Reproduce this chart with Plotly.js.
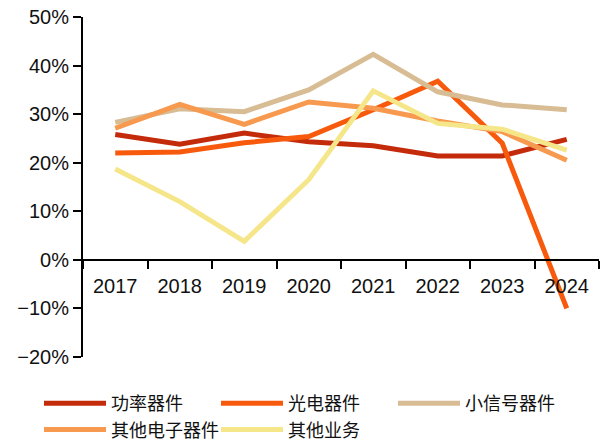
<!DOCTYPE html>
<html>
<head>
<meta charset="utf-8">
<script src="https://cdn.plot.ly/plotly-3.0.1.min.js"></script>
<style>html,body{margin:0;padding:0;background:#fff;}#chart{width:605px;height:444px;}</style>
</head>
<body>
<div id="chart"></div>
<script>
var years = ['2017','2018','2019','2020','2021','2022','2023','2024'];
var seriesNames = ['功率器件','光电器件','小信号器件','其他电子器件','其他业务'];
var power   = [25.8, 23.8, 26.1, 24.3, 23.5, 21.4, 21.4, 24.8];
var opto    = [22.0, 22.2, 24.1, 25.4, 30.9, 36.8, 24.0, -10.0];
var signal  = [28.3, 31.1, 30.5, 35.0, 42.3, 34.6, 31.9, 30.9];
var otherEl = [27.1, 32.0, 27.9, 32.5, 31.2, 28.6, 26.4, 20.5];
var otherBiz= [18.7, 12.0, 3.8, 16.5, 34.8, 28.1, 26.9, 22.6];
var colors = ['#C42B0B','#F75A0C','#D8BC94','#F7994E','#F6E68A'];
var values = [power, opto, signal, otherEl, otherBiz];

var traces = values.map(function(v, i){
  return {x: years, y: v, name: seriesNames[i], type: 'scatter', mode: 'lines',
          line: {color: colors[i], width: 5}, hoverinfo: 'skip'};
});

var fontFam = 'Liberation Sans, Arial, Noto Sans CJK SC, sans-serif';
var layout = {
  width: 605, height: 444,
  margin: {l: 83, r: 6, t: 17, b: 87, autoexpand: false},
  paper_bgcolor: '#ffffff', plot_bgcolor: '#ffffff',
  showlegend: true,
  font: {family: fontFam, size: 18, color: '#1a1a1a'},
  xaxis: {
    type: 'category', range: [-0.5, 7.5],
    anchor: 'free', position: 20/70,
    showline: true, linecolor: '#000', linewidth: 2,
    ticks: 'outside', tickson: 'boundaries', ticklen: 8, tickwidth: 2, tickcolor: '#000',
    showgrid: false, zeroline: false,
    tickfont: {family: fontFam, size: 20, color: '#111'},
    ticklabelstandoff: 8
  },
  yaxis: {
    range: [-20, 50], dtick: 10, ticksuffix: '%',
    showline: true, linecolor: '#000', linewidth: 2,
    ticks: 'outside', ticklen: 8, tickwidth: 2, tickcolor: '#000',
    showgrid: false, zeroline: false,
    tickfont: {family: fontFam, size: 20, color: '#111'}
  },
  legend: {
    orientation: 'h',
    x: (39-83)/516, xanchor: 'left', y: -(385-357)/340, yanchor: 'top',
    entrywidth: 100, entrywidthmode: 'pixels', itemwidth: 62,
    font: {family: 'Noto Sans CJK SC, sans-serif', size: 18, color: '#111'},
    traceorder: 'normal', bgcolor: 'rgba(0,0,0,0)'
  }
};
Plotly.newPlot('chart', traces, layout, {displayModeBar: false, staticPlot: true});
</script>
</body>
</html>
